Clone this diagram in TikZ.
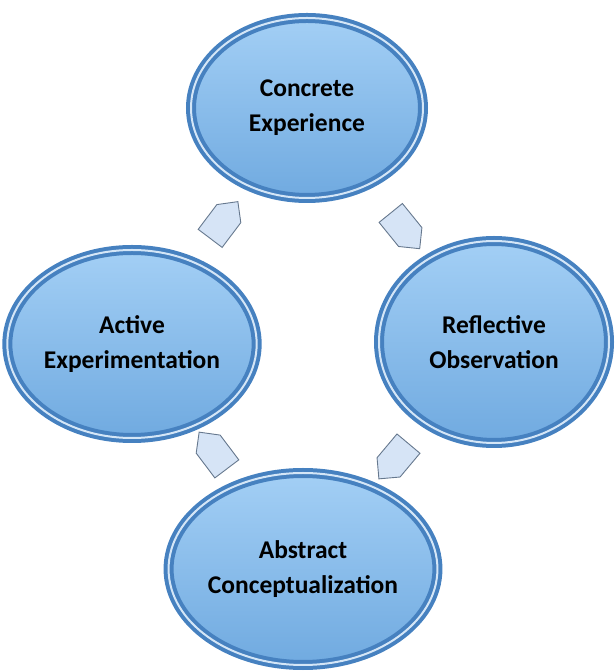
\documentclass[tikz,border=0pt]{standalone}
\usepackage{fontspec}
\setmainfont{Carlito}
\usetikzlibrary{shapes.geometric,shapes.symbols,shadows,calc}

\definecolor{rimblue}{HTML}{4681C0}
\definecolor{rimlight}{HTML}{D4E6F7}
\definecolor{fillhigh}{HTML}{A3CFF5}
\definecolor{filllow}{HTML}{70AAE0}
\definecolor{arrowfill}{HTML}{D6E4F6}
\definecolor{arrowedge}{HTML}{66788E}

\begin{document}
\begin{tikzpicture}[x=1pt,y=1pt,
        stage/.style={ellipse, draw=rimblue, line width=4pt, double=rimlight, double distance=2pt,
            top color=fillhigh, bottom color=filllow, inner sep=0pt, align=center,
            drop shadow={opacity=0.2, shadow xshift=2pt, shadow yshift=-3pt},
            font=\bfseries\fontsize{25.5}{35}\selectfont},
        cyclearrow/.style={signal, signal to=east, draw=arrowedge, line width=0.9pt, fill=arrowfill,
            minimum width=46pt, minimum height=30pt, inner sep=0pt}]
        \useasboundingbox (0,0) rectangle (615,672);

        \node[stage, minimum width=232pt, minimum height=180pt] (ce) at (307,564) {Concrete\\Experience};
        \node[stage, minimum width=240pt, minimum height=188pt] (ae) at (132,328) {Active\\Experimentation};
        \node[stage, minimum width=230pt, minimum height=202pt] (ro) at (494,330) {Reflective\\Observation};
        \node[stage, minimum width=260pt, minimum height=192pt] (ac) at (303,103) {Abstract\\Conceptualization};

        \foreach \a/\b/\r in {ae/ce/53, ce/ro/-51, ro/ac/-130, ac/ae/127}
            \node[cyclearrow, rotate=\r] (\a\b) at ($(\a)!0.5!(\b)$) {};
\end{tikzpicture}
\end{document}
